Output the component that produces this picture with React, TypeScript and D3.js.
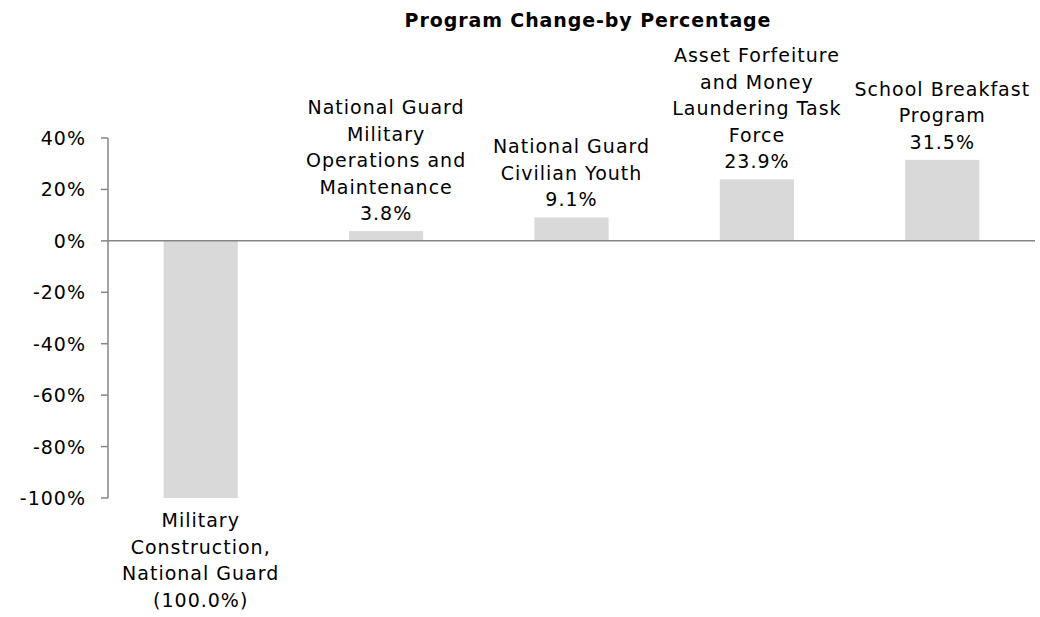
import React from "react";
import * as d3 from "d3";

const categories = [
  "Military Construction, National Guard",
  "National Guard Military Operations and Maintenance",
  "National Guard Civilian Youth",
  "Asset Forfeiture and Money Laundering Task Force",
  "School Breakfast Program",
];
const labelLines = [
  ["Military", "Construction,", "National Guard"],
  ["National Guard", "Military", "Operations and", "Maintenance"],
  ["National Guard", "Civilian Youth"],
  ["Asset Forfeiture", "and Money", "Laundering Task", "Force"],
  ["School Breakfast", "Program"],
];
const values = [-100, 3.8, 9.1, 23.9, 31.5];
const yTicks = [40, 20, 0, -20, -40, -60, -80, -100];
const title = "Program Change-by Percentage";

const W = 1040;
const H = 617;
const FONT = "'DejaVu Sans', sans-serif";
const LH = 26.5;
const FS = 19;

export default function App() {
  const x = d3
    .scaleBand<string>()
    .domain(categories)
    .range([108, 1035])
    .paddingInner(0.6)
    .paddingOuter(0.3);
  const y = d3.scaleLinear().domain([-100, 40]).range([498, 138]);
  const fmt = (v: number) =>
    v < 0 ? `(${Math.abs(v).toFixed(1)}%)` : `${v.toFixed(1)}%`;
  const axisColor = "#868686";

  return (
    <svg
      width={W}
      height={H}
      style={{ position: "absolute", left: 0, top: 0, background: "#fff" }}
    >
      <text
        x={588}
        y={26.5}
        textAnchor="middle"
        fontFamily={FONT}
        fontWeight="bold"
        fontSize={19}
        letterSpacing={0.9}
        fill="#000"
      >
        {title}
      </text>

      {values.map((v, i) => {
        const c = categories[i];
        const bx = x(c)!;
        const bw = x.bandwidth();
        const y0 = y(0);
        const y1 = y(v);
        return (
          <rect
            key={c}
            x={bx}
            y={Math.min(y0, y1)}
            width={bw}
            height={Math.abs(y1 - y0)}
            fill="#d9d9d9"
          />
        );
      })}

      {/* y axis */}
      <line x1={108} x2={108} y1={y(40)} y2={y(-100)} stroke={axisColor} strokeWidth={1.5} />
      {yTicks.map((t) => (
        <g key={t}>
          <line x1={101} x2={108} y1={y(t)} y2={y(t)} stroke={axisColor} strokeWidth={1.5} />
          <text
            x={86}
            y={y(t) + 7}
            textAnchor="end"
            fontFamily={FONT}
            fontSize={FS}
            letterSpacing={1}
            fill="#000"
          >
            {`${t}%`}
          </text>
        </g>
      ))}
      <line x1={108} x2={1035} y1={y(0)} y2={y(0)} stroke={axisColor} strokeWidth={1.5} />

      {values.map((v, i) => {
        const c = categories[i];
        const cx = x(c)! + x.bandwidth() / 2;
        const lines = [...labelLines[i], fmt(v)];
        if (v >= 0) {
          const lastCenter = y(v) - 18;
          return (
            <text
              key={c}
              textAnchor="middle"
              fontFamily={FONT}
              fontSize={FS}
              letterSpacing={1}
              fill="#000"
            >
              {lines.map((l, j) => (
                <tspan key={j} x={cx} y={lastCenter + 7 - (lines.length - 1 - j) * LH}>
                  {l}
                </tspan>
              ))}
            </text>
          );
        }
        const firstCenter = y(v) + 22;
        return (
          <text
            key={c}
            textAnchor="middle"
            fontFamily={FONT}
            fontSize={FS}
            letterSpacing={1}
            fill="#000"
          >
            {lines.map((l, j) => (
              <tspan key={j} x={cx} y={firstCenter + 7 + j * LH}>
                {l}
              </tspan>
            ))}
          </text>
        );
      })}
    </svg>
  );
}
